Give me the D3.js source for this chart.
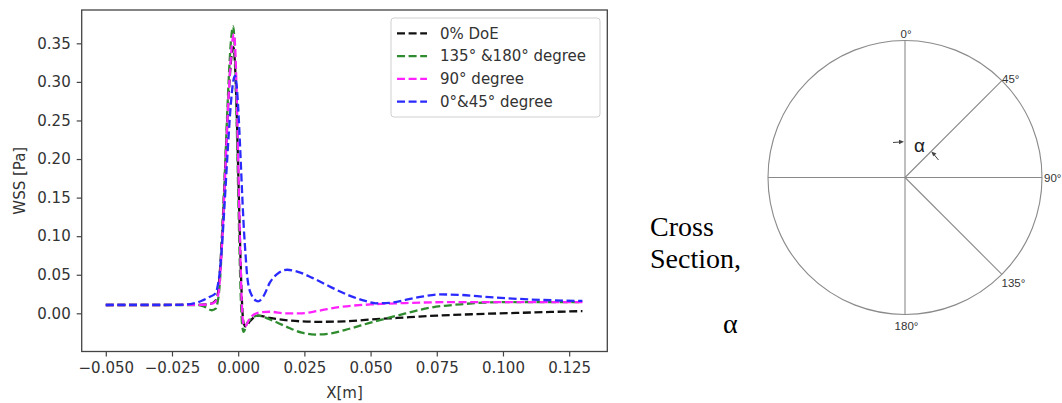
<!DOCTYPE html>
<html>
<head>
<meta charset="utf-8">
<script src="https://cdn.jsdelivr.net/npm/d3@7"></script>
<style>
  html, body { margin: 0; padding: 0; background: #fff; }
  svg { display: block; }
</style>
</head>
<body>
<svg id="chart" width="1062" height="403"></svg>
<script>
// ---------- data ----------
const seriesNames = ["0% DoE", "135° &180° degree", "90° degree", "0°&45° degree"];
const seriesColors = ["#111111", "#2e8b2e", "#ff22ff", "#2a2aff"];

const doeX   = [-0.050,-0.030,-0.015,-0.011,-0.009,-0.008,-0.0018,0.0020,0.0028,0.0045,0.0075,0.012,0.020,0.030,0.040,0.050,0.060,0.075,0.090,0.105,0.120,0.130];
const doeY   = [0.0108,0.0108,0.0110,0.0120,0.0150,0.0200,0.345,-0.012,-0.017,-0.010,-0.003,-0.006,-0.0095,-0.011,-0.0105,-0.008,-0.006,-0.003,-0.001,0.0005,0.002,0.0028];

const d135X  = [-0.050,-0.030,-0.016,-0.013,-0.010,-0.0085,-0.0075,-0.0019,0.0015,0.0020,0.0035,0.0075,0.012,0.018,0.024,0.029,0.035,0.042,0.050,0.060,0.072,0.085,0.100,0.115,0.130];
const d135Y  = [0.0108,0.0108,0.0108,0.009,0.004,0.006,0.020,0.372,-0.015,-0.024,-0.012,-0.003,-0.008,-0.017,-0.025,-0.0275,-0.026,-0.020,-0.012,-0.003,0.007,0.012,0.0145,0.0145,0.0145];

const d90X   = [-0.050,-0.030,-0.014,-0.0095,-0.0078,-0.0016,0.0018,0.0025,0.0045,0.008,0.012,0.018,0.024,0.030,0.038,0.050,0.065,0.080,0.100,0.130];
const d90Y   = [0.0108,0.0108,0.011,0.013,0.020,0.362,-0.010,-0.017,-0.006,0.001,0.002,0.000,0.000,0.003,0.008,0.0115,0.0135,0.0145,0.0145,0.0145];

const d0X    = [-0.050,-0.025,-0.018,-0.014,-0.011,-0.0085,-0.0075,-0.0012,0.0025,0.0035,0.005,0.0075,0.0095,0.012,0.0155,0.0185,0.022,0.028,0.035,0.042,0.048,0.052,0.057,0.064,0.070,0.076,0.083,0.095,0.110,0.130];
const d0Y    = [0.0108,0.011,0.012,0.016,0.021,0.026,0.040,0.308,0.090,0.045,0.024,0.0155,0.022,0.040,0.053,0.0565,0.0545,0.046,0.034,0.023,0.016,0.013,0.0135,0.018,0.022,0.0245,0.024,0.021,0.018,0.016];

const seriesX = [doeX, d135X, d90X, d0X];
const seriesY = [doeY, d135Y, d90Y, d0Y];

const xTicks = [-0.050, -0.025, 0.000, 0.025, 0.050, 0.075, 0.100, 0.125];
const yTicks = [0.00, 0.05, 0.10, 0.15, 0.20, 0.25, 0.30, 0.35];
const xDomain = [-0.0591, 0.1394];
const yDomain = [-0.0495, 0.3932];

const angleLabels = ["0°", "45°", "90°", "135°", "180°"];
const angleValues = [0, 45, 90, 135, 180];
const spokeAngles = [0, 45, 90, 135, 180, 270];

// ---------- layout ----------
const svg = d3.select("#chart");
const L = 81.7, R = 607.3, T = 10, B = 351.5;
const x = d3.scaleLinear().domain(xDomain).range([L, R]);
const y = d3.scaleLinear().domain(yDomain).range([B, T]);
const axisColor = "#444";
const font = "'DejaVu Sans', sans-serif";

// lines
const line = d3.line().x(d => x(d[0])).y(d => y(d[1])).curve(d3.curveMonotoneX);
const plot = svg.append("g");
plot.append("clipPath").attr("id", "clip").append("rect")
  .attr("x", L).attr("y", T).attr("width", R - L).attr("height", B - T);
const lines = plot.append("g").attr("clip-path", "url(#clip)");
seriesNames.forEach((name, i) => {
  const pts = seriesX[i].map((v, j) => [v, seriesY[i][j]]);
  lines.append("path")
    .attr("d", line(pts))
    .attr("fill", "none")
    .attr("stroke", seriesColors[i])
    .attr("stroke-width", 2.3)
    .attr("stroke-dasharray", "8,3.6")
    .attr("stroke-linejoin", "round");
});

// axes
const xAxis = d3.axisBottom(x).tickValues(xTicks).tickFormat(d3.format(".3f")).tickSize(5).tickPadding(6);
const yAxis = d3.axisLeft(y).tickValues(yTicks).tickFormat(d3.format(".2f")).tickSize(5).tickPadding(6);
const gx = svg.append("g").attr("transform", `translate(0,${B})`).call(xAxis);
const gy = svg.append("g").attr("transform", `translate(${L},0)`).call(yAxis);
[gx, gy].forEach(g => {
  g.select(".domain").remove();
  g.selectAll(".tick line").attr("stroke", axisColor).attr("stroke-width", 1.2);
  g.selectAll(".tick text").attr("fill", "#333").style("font-family", font).style("font-size", "15px");
});

// frame
svg.append("rect").attr("x", L).attr("y", T).attr("width", R - L).attr("height", B - T)
  .attr("fill", "none").attr("stroke", axisColor).attr("stroke-width", 1.3);

// axis labels
svg.append("text").attr("x", (L + R) / 2).attr("y", 398).attr("text-anchor", "middle")
  .attr("fill", "#333").style("font-family", font).style("font-size", "15px").text("X[m]");
svg.append("text").attr("transform", `translate(25,${(T + B) / 2}) rotate(-90)`).attr("text-anchor", "middle")
  .attr("fill", "#333").style("font-family", font).style("font-size", "15px").text("WSS [Pa]");

// legend
const lg = svg.append("g");
lg.append("rect").attr("x", 391).attr("y", 18).attr("width", 209).attr("height", 99).attr("rx", 3)
  .attr("fill", "#fff").attr("fill-opacity", 0.8).attr("stroke", "#d0d0d0").attr("stroke-width", 1);
seriesNames.forEach((name, i) => {
  const yy = 33.3 + i * 22.8;
  lg.append("line").attr("x1", 397).attr("x2", 427).attr("y1", yy).attr("y2", yy)
    .attr("stroke", seriesColors[i]).attr("stroke-width", 2.3).attr("stroke-dasharray", "8,3.6");
  lg.append("text").attr("x", 440).attr("y", yy + 5.3).attr("fill", "#333")
    .style("font-family", font).style("font-size", "15px").text(name);
});

// ---------- cross-section diagram ----------
const cx = 905, cy = 177.5, r = 137;
const dg = svg.append("g");
const pt = (deg, rad) => [cx + rad * Math.sin(deg * Math.PI / 180), cy - rad * Math.cos(deg * Math.PI / 180)];
dg.append("circle").attr("cx", cx).attr("cy", cy).attr("r", r)
  .attr("fill", "none").attr("stroke", "#8a8a8a").attr("stroke-width", 1.1);
spokeAngles.forEach(a => {
  const p = pt(a, r);
  dg.append("line").attr("x1", cx).attr("y1", cy).attr("x2", p[0]).attr("y2", p[1])
    .attr("stroke", "#8a8a8a").attr("stroke-width", 1.1);
});
const labelPos = [[906, 38, "middle"], [1002, 83, "start"], [1044, 181.5, "start"], [1001.5, 286.5, "start"], [906.5, 330, "middle"]];
angleLabels.forEach((t, i) => {
  dg.append("text").attr("x", labelPos[i][0]).attr("y", labelPos[i][1]).attr("text-anchor", labelPos[i][2])
    .attr("fill", "#333").style("font-family", "'Liberation Sans', Arial, sans-serif").style("font-size", "11.5px").text(t);
});
// alpha arc arrows
dg.append("line").attr("x1", 893).attr("y1", 142.5).attr("x2", 900).attr("y2", 142)
  .attr("stroke", "#444").attr("stroke-width", 1);
dg.append("path").attr("d", "M904,141.8 L899,139.8 L899,144.2 Z").attr("fill", "#444");
dg.append("line").attr("x1", 938.5).attr("y1", 160).attr("x2", 934).attr("y2", 154.5)
  .attr("stroke", "#444").attr("stroke-width", 1);
dg.append("path").attr("d", "M931.3,151.5 L936.5,153.5 L933.2,156.3 Z").attr("fill", "#444");
dg.append("text").attr("x", 914).attr("y", 152).attr("fill", "#222")
  .style("font-family", "'Liberation Sans', Arial, sans-serif").style("font-size", "19px").text("α");

// caption text
const cap = svg.append("g").style("font-family", "'Liberation Serif', 'Times New Roman', serif").style("font-size", "28px").attr("fill", "#000");
cap.append("text").attr("x", 650).attr("y", 236).text("Cross");
cap.append("text").attr("x", 650).attr("y", 268).text("Section,");
cap.append("text").attr("x", 723).attr("y", 333).text("α");
</script>
</body>
</html>
